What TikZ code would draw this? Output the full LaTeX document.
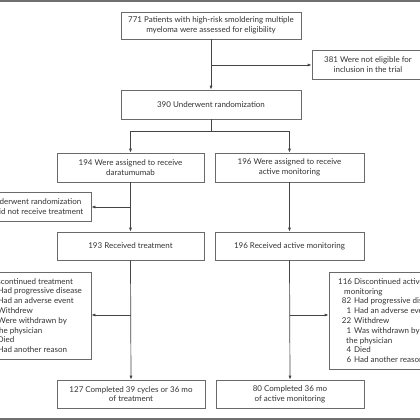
\documentclass[tikz,border=0pt]{standalone}
\usepackage{fontspec}
\setmainfont{Lato}
\usetikzlibrary{arrows.meta}
\definecolor{txt}{HTML}{333333}
\definecolor{boxc}{HTML}{6A6A6A}
\definecolor{arrc}{HTML}{444444}
\definecolor{rulec}{HTML}{707070}
\newcommand{\fsz}{\fontsize{8}{9.8}\selectfont}
\newcommand{\nl}[2]{\makebox[13pt][r]{#1}\hspace{3pt}#2}
\tikzset{
  box/.style={draw=boxc, line width=0.7pt, rectangle, inner sep=0pt, align=center, font=\fsz, text=txt},
  lbl/.style={inner sep=0pt, align=left, font=\fsz, text=txt, anchor=west},
  arr/.style={draw=arrc, line width=0.7pt, -{Latex[length=4pt,width=3pt]}},
  ln/.style={draw=arrc, line width=0.7pt},
  rulestyle/.style={draw=rulec, line width=2pt}
}
\begin{document}
\begin{tikzpicture}[x=1pt,y=-1pt]
\useasboundingbox (0,0) rectangle (420,420);
\draw[rulestyle] (0,0.8) -- (420,0.8);
\draw[rulestyle] (0,419) -- (420,419);

\node[box, minimum width=180pt, minimum height=27pt] (b771) at (211,25.5) {771 Patients with high-risk smoldering multiple\\myeloma were assessed for eligibility};
\node[box, minimum width=112pt, minimum height=29pt] (b381) at (368,64.5) {381 Were not eligible for\\inclusion in the trial};
\node[box, minimum width=180pt, minimum height=29pt] (b390) at (211,104.5) {390 Underwent randomization};
\node[box, minimum width=147pt, minimum height=29pt] (b194) at (130.5,167.5) {194 Were assigned to receive\\daratumumab};
\node[box, minimum width=149pt, minimum height=29pt] (b196a) at (289.5,167.5) {196 Were assigned to receive\\active monitoring};
\node[box, minimum width=118pt, minimum height=29pt] (bund) at (32,206.5) {1 Underwent randomization\\but did not receive treatment};
\node[box, minimum width=147pt, minimum height=28pt] (b193) at (130.5,246) {193 Received treatment};
\node[box, minimum width=149pt, minimum height=28pt] (b196r) at (289.5,246) {196 Received active monitoring};
\node[box, minimum width=140pt, minimum height=87pt] (bdL) at (21,315.5) {};
\node[lbl] (tdL) at (-22,315.5) {66 Discontinued treatment\\
\hspace{19.5pt}Had progressive disease\\
\hspace{19.5pt}Had an adverse event\\
\hspace{19.5pt}Withdrew\\
\hspace{19.5pt}Were withdrawn by\\
\hspace{18pt}the physician\\
\hspace{19.5pt}Died\\
\hspace{19.5pt}Had another reason};
\node[box, minimum width=151pt, minimum height=97pt] (bdR) at (404.5,320.5) {};
\node[lbl] (tdR) at (338,320.5) {116 Discontinued active\\
\hspace{6pt}monitoring\\
\nl{82}{Had progressive disease}\\
\nl{1}{Had an adverse event}\\
\nl{22}{Withdrew}\\
\nl{1}{Was withdrawn by}\\
\hspace{8pt}the physician\\
\nl{4}{Died}\\
\nl{6}{Had another reason}};
\node[box, minimum width=148pt, minimum height=28pt] (b127) at (131,394) {127 Completed 39 cycles or 36 mo\\of treatment};
\node[box, minimum width=148pt, minimum height=28pt] (b80) at (290,394) {80 Completed 36 mo\\of active monitoring};

\coordinate (j1) at (211,65);
\draw[arr] (b771.south) -- (b390.north);
\draw[arr] (j1) -- (j1 -| b381.west);
\coordinate (s1) at (211,131);
\draw[ln] (b390.south) -- (s1);
\draw[arr] (s1) -| (b194.north);
\draw[arr] (s1) -| (b196a.north);
\draw[arr] (b194.south) -- (b193.north);
\coordinate (j2) at (130.5,207);
\draw[arr] (j2) -- (j2 -| bund.east);
\draw[arr] (b196a.south) -- (b196r.north);
\draw[arr] (b193.south) -- (b127.north);
\coordinate (j3) at (130.5,315);
\draw[arr] (j3) -- (j3 -| bdL.east);
\draw[arr] (b196r.south) -- (b80.north);
\coordinate (j4) at (289.5,315);
\draw[arr] (j4) -- (j4 -| bdR.west);
\end{tikzpicture}
\end{document}
